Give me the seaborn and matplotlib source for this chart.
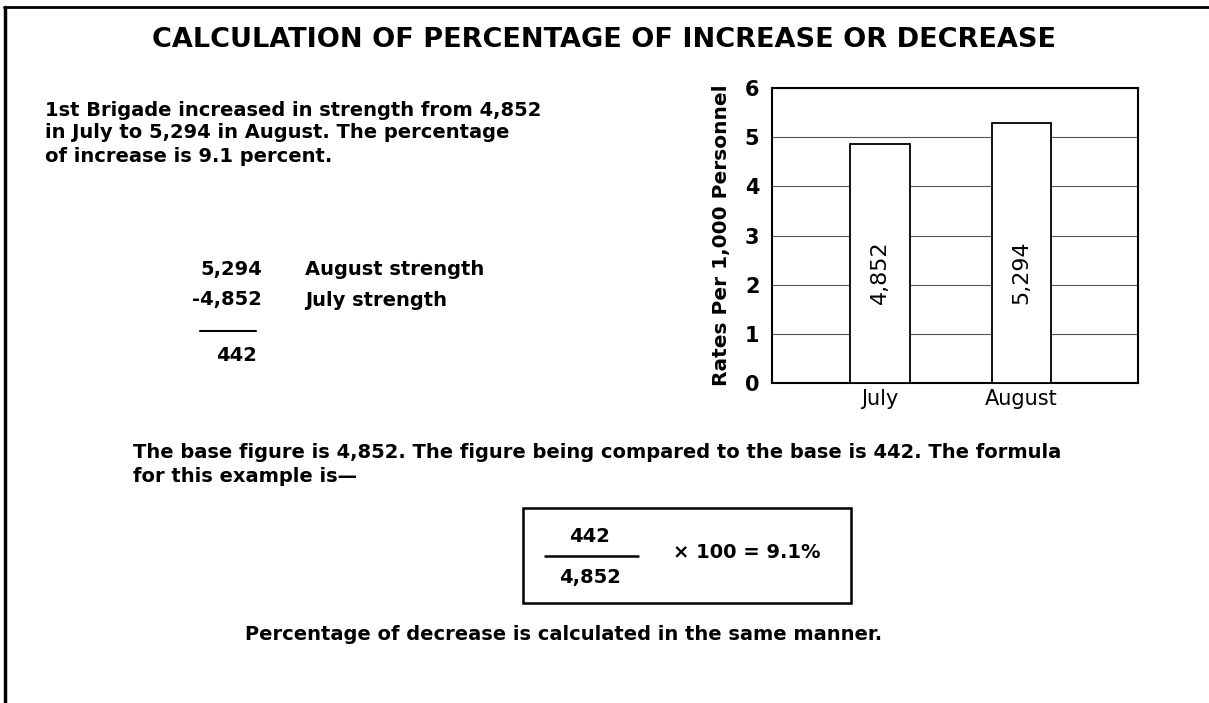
import matplotlib
matplotlib.use("Agg")
import matplotlib.pyplot as plt
import seaborn as sns
import pandas as pd
from matplotlib.lines import Line2D
from matplotlib.patches import Rectangle

# ----------------------
# Data
# ----------------------
months = ["July", "August"]
strength = [4.852, 5.294]          # thousands of personnel
bar_labels = ["4,852", "5,294"]
y_ticks = [0, 1, 2, 3, 4, 5, 6]

df = pd.DataFrame({"Month": months, "Strength": strength})

sns.set_theme(style="white")
plt.rcParams["font.family"] = ["DejaVu Sans"]

W, H = 1209, 703
BODY = 14
fig = plt.figure(figsize=(W / 100, H / 100), dpi=100)


def fx(px):
    return px / W


def fy(py):
    return 1 - py / H


def put(px, py, s, **kw):
    kw.setdefault("va", "center")
    kw.setdefault("fontweight", "bold")
    kw.setdefault("color", "black")
    kw.setdefault("fontsize", BODY)
    fig.text(fx(px), fy(py), s, **kw)


# outer frame (top and left edges visible)
fig.add_artist(Line2D([fx(4), fx(W)], [fy(7), fy(7)], color="black", lw=2))
fig.add_artist(Line2D([fx(5), fx(5)], [fy(7), fy(H)], color="black", lw=2.5))

# ----------------------
# Bar chart
# ----------------------
ax = fig.add_axes([fx(772), fy(383), fx(1138) - fx(772), fy(88) - fy(383)])
sns.barplot(data=df, x="Month", y="Strength", color="white", edgecolor="black",
            linewidth=1.3, width=0.42, ax=ax, zorder=3, saturation=1)
ax.set_xlim(-0.76, 1.82)
ax.set_ylim(0, 6)
ax.set_yticks(y_ticks)
ax.set_yticklabels([str(t) for t in y_ticks], fontsize=15, fontweight="bold")
ax.set_xticks(range(len(months)))
ax.set_xticklabels(months, fontsize=15)
ax.tick_params(axis="x", length=0, pad=4, labelcolor="black")
ax.tick_params(axis="y", length=0, pad=9, labelcolor="black")
ax.set_xlabel("")
ax.set_ylabel("Rates Per 1,000 Personnel", fontsize=14.5, fontweight="bold",
              labelpad=10, color="black")
ax.yaxis.grid(True, color="#555555", lw=0.8, zorder=0)
ax.set_axisbelow(True)
for sp in ax.spines.values():
    sp.set_color("black")
    sp.set_linewidth(1.5)

for i, lab in enumerate(bar_labels):
    ax.text(i, 2.25, lab, rotation=90, ha="center", va="center", fontsize=16,
            color="black", zorder=4)

# ----------------------
# Text panel
# ----------------------
put(604, 40, "CALCULATION OF PERCENTAGE OF INCREASE OR DECREASE", ha="center", fontsize=19.5)

put(45, 110, "1st Brigade increased in strength from 4,852")
put(45, 133, "in July to 5,294 in August. The percentage")
put(45, 156, "of increase is 9.1 percent.")

put(262, 270, "5,294", ha="right")
put(262, 300, "-4,852", ha="right")
put(305, 270, "August strength")
put(305, 300, "July strength")
fig.add_artist(Line2D([fx(200), fx(256)], [fy(331), fy(331)], color="black", lw=1.5))
put(257, 355, "442", ha="right")

put(133, 453, "The base figure is 4,852. The figure being compared to the base is 442. The formula")
put(133, 476, "for this example is\u2014")

# formula box
fig.add_artist(Rectangle((fx(523), fy(603)), fx(851) - fx(523), fy(508) - fy(603),
                         fill=False, edgecolor="black", lw=1.8))
put(590, 537, "442", ha="center")
fig.add_artist(Line2D([fx(545), fx(638)], [fy(556), fy(556)], color="black", lw=1.8))
put(590, 578, "4,852", ha="center")
put(673, 553, "\u00d7 100 = 9.1%")

put(245, 635, "Percentage of decrease is calculated in the same manner.")

fig.savefig("out.png", dpi=100, facecolor="white")
